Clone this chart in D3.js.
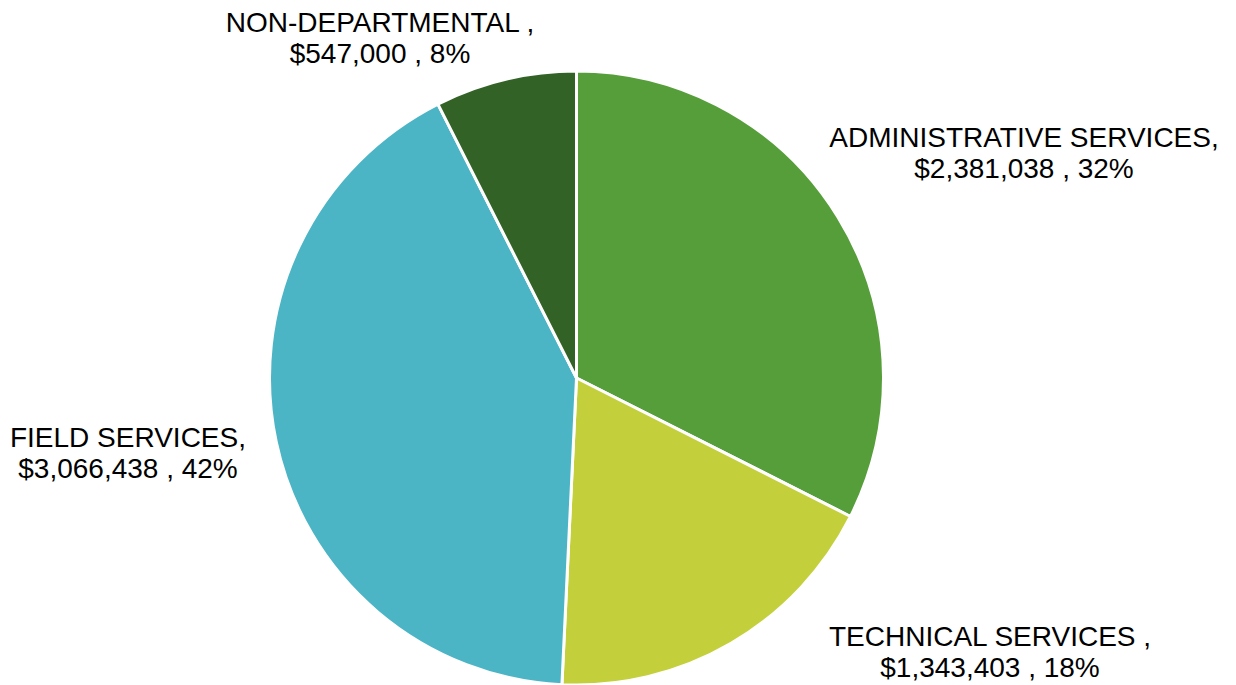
<!DOCTYPE html>
<html>
<head>
<meta charset="utf-8">
<script src="https://cdn.jsdelivr.net/npm/d3@7"></script>
<style>
  html, body { margin: 0; padding: 0; background: #fff; }
  svg { display: block; }
  text { font-family: "Liberation Sans", Arial, sans-serif; fill: #000; }
</style>
</head>
<body>
<svg id="chart" width="1236" height="685"></svg>
<script>
// Budget by department (clockwise from 12 o'clock)
const categories = ["ADMINISTRATIVE SERVICES,", "TECHNICAL SERVICES ,", "FIELD SERVICES,", "NON-DEPARTMENTAL ,"];
const values = [2381038, 1343403, 3066438, 547000];
const percentLabels = ["32%", "18%", "42%", "8%"];
const colors = ["#559E3A", "#C3D03B", "#4BB4C5", "#336226"];

// Baseline of the first label line, centred horizontally on x
const labelPos = [[1024, 147], [990, 646], [128, 447], [380, 32]];

const W = 1236, H = 685;
const cx = 576.5, cy = 378, radius = 307;

const svg = d3.select("#chart");
const g = svg.append("g").attr("transform", `translate(${cx},${cy})`);

const pie = d3.pie().sort(null).value(d => d);
const arcs = pie(values);
const arc = d3.arc().innerRadius(0).outerRadius(radius);

g.selectAll("path.slice")
  .data(arcs)
  .join("path")
  .attr("class", "slice")
  .attr("d", arc)
  .attr("fill", (d, i) => colors[i])
  .attr("stroke", "#fff")
  .attr("stroke-width", 3)
  .attr("stroke-linejoin", "round");

const fmt = d3.format("$,");
const fontSize = 28;
const lineH = 31;

const labels = svg.selectAll("text.lbl")
  .data(arcs)
  .join("text")
  .attr("class", "lbl")
  .attr("text-anchor", "middle")
  .attr("font-size", fontSize)
  .attr("x", (d, i) => labelPos[i][0])
  .attr("y", (d, i) => labelPos[i][1]);

labels.append("tspan")
  .attr("x", (d, i) => labelPos[i][0])
  .text((d, i) => categories[i]);

labels.append("tspan")
  .attr("x", (d, i) => labelPos[i][0])
  .attr("dy", lineH)
  .text((d, i) => `${fmt(d.data)} , ${percentLabels[i]}`);
</script>
</body>
</html>
